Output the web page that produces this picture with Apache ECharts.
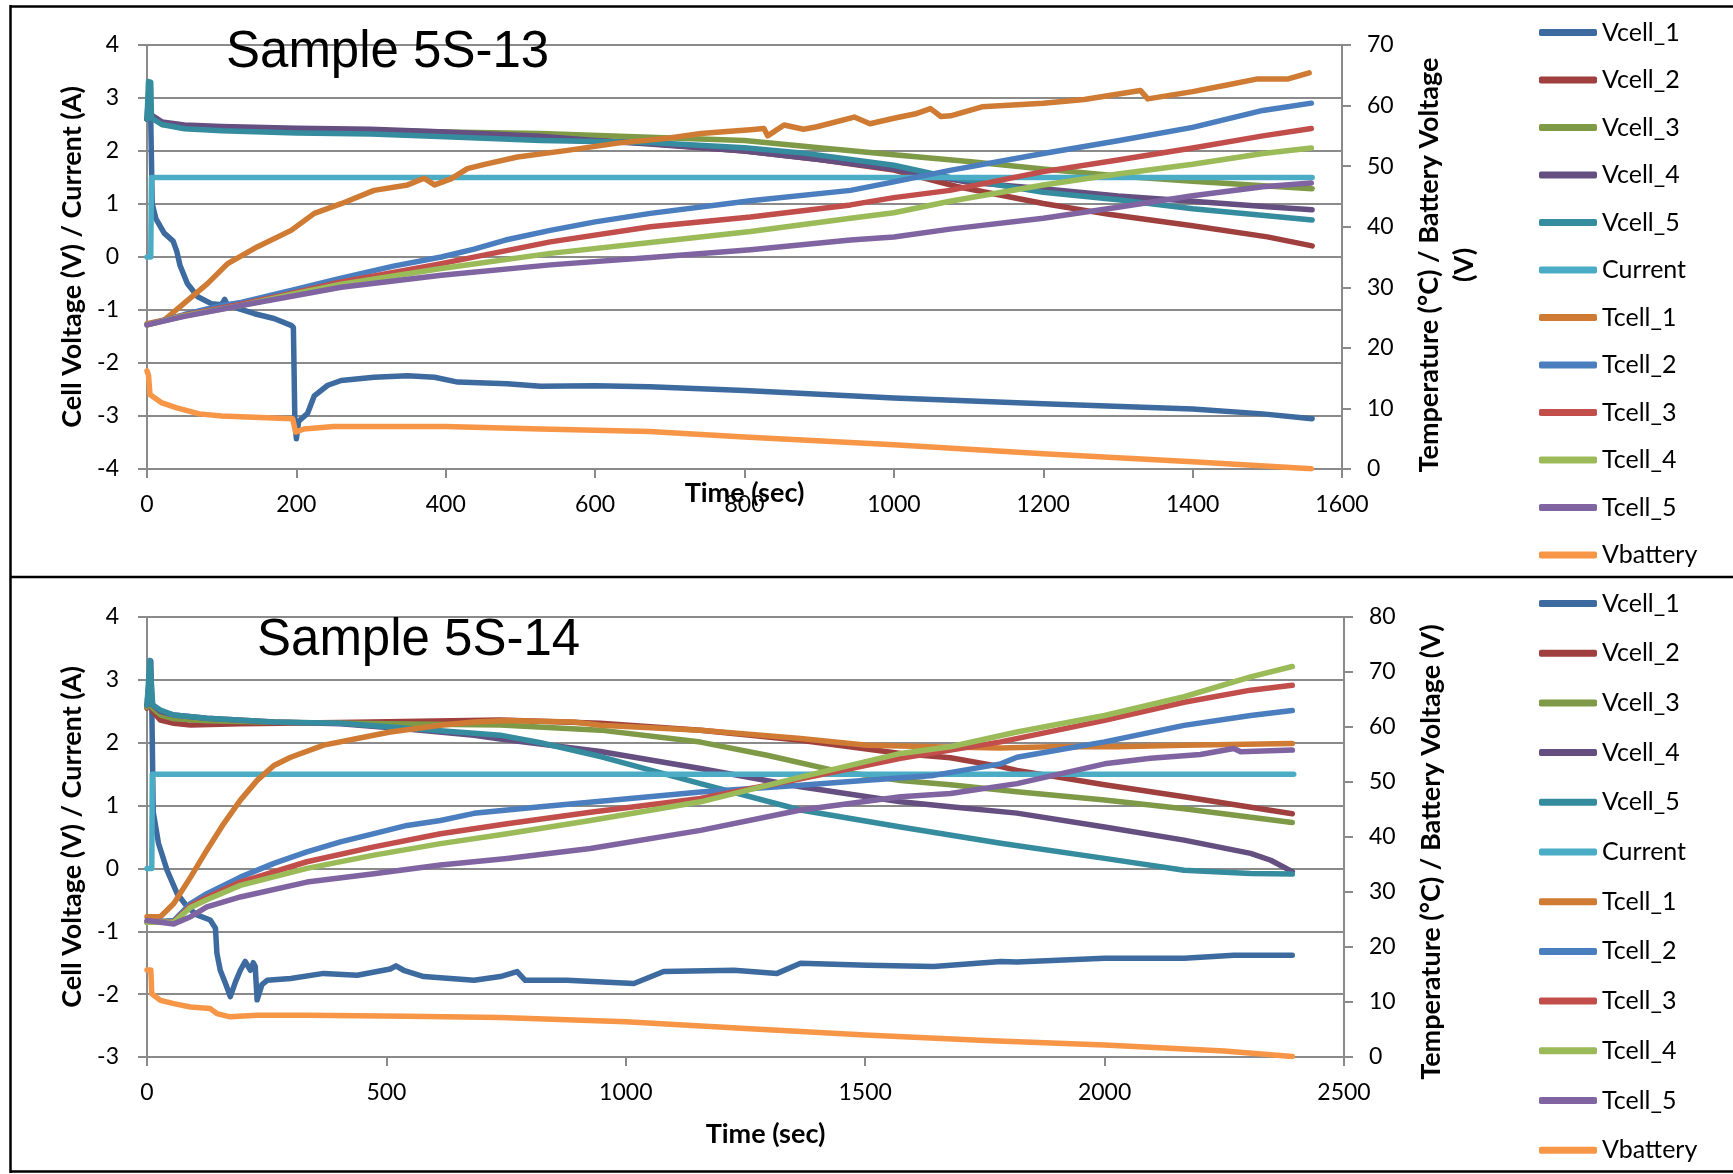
<!DOCTYPE html>
<html>
<head>
<meta charset="utf-8">
<script src="https://cdn.jsdelivr.net/npm/echarts@6/dist/echarts.min.js"></script>
<style>
  html, body { margin: 0; padding: 0; background: #fff; }
  #chart { width: 1733px; height: 1174px; }
</style>
</head>
<body>
<div id="chart"></div>
<script>
const seriesNames = ['Vcell_1', 'Vcell_2', 'Vcell_3', 'Vcell_4', 'Vcell_5', 'Current',
  'Tcell_1', 'Tcell_2', 'Tcell_3', 'Tcell_4', 'Tcell_5', 'Vbattery'];
const seriesColors = ['#3D6A9F', '#A0403E', '#7E9A47', '#654E80', '#368C9F', '#4BACC6',
  '#D07B33', '#4A7EBF', '#C24E4B', '#9BBB59', '#8064A2', '#F79646'];
// first six go on the left axis (V / A), the rest on the right one (°C / V)

// ---- Sample 5S-13 : [time s, value]
const s13Vcell1 = [[0,2.62],[3,3.2],[5,2.6],[7,1.0],[12,0.72],[23,0.45],[35,0.3],[40,0.1],[44,-0.15],[54,-0.5],[68,-0.75],[86,-0.88],[100,-0.9],[104,-0.8],[108,-0.92],[117,-0.95],[144,-1.07],[170,-1.16],[193,-1.29],[196,-1.33],[198,-3.1],[200,-3.43],[203,-3.1],[215,-2.95],[224,-2.62],[242,-2.42],[260,-2.33],[304,-2.27],[349,-2.24],[385,-2.27],[416,-2.36],[482,-2.39],[527,-2.44],[600,-2.43],[673,-2.45],[800,-2.52],[1000,-2.66],[1200,-2.77],[1400,-2.87],[1494,-2.96],[1560,-3.05]];
const s13Vcell2 = [[0,2.6],[3,2.7],[6,2.65],[20,2.52],[60,2.45],[120,2.42],[200,2.41],[300,2.39],[400,2.35],[527,2.27],[673,2.14],[800,2.0],[900,1.84],[1000,1.64],[1084,1.33],[1200,1.01],[1290,0.8],[1400,0.59],[1500,0.38],[1560,0.21]];
const s13Vcell3 = [[0,2.6],[3,2.7],[6,2.65],[20,2.5],[60,2.44],[120,2.42],[200,2.41],[300,2.39],[400,2.36],[527,2.33],[673,2.26],[800,2.2],[900,2.06],[1000,1.93],[1100,1.8],[1200,1.66],[1300,1.53],[1400,1.43],[1500,1.34],[1560,1.29]];
const s13Vcell4 = [[0,2.6],[3,2.72],[6,2.68],[20,2.55],[50,2.49],[100,2.46],[200,2.43],[300,2.41],[400,2.36],[527,2.28],[600,2.2],[673,2.13],[800,2.0],[900,1.84],[1000,1.66],[1075,1.47],[1100,1.41],[1200,1.29],[1300,1.15],[1400,1.05],[1500,0.95],[1560,0.89]];
const s13Vcell5 = [[0,2.6],[2,3.31],[5,3.3],[6,2.62],[20,2.5],[50,2.42],[100,2.38],[200,2.34],[300,2.32],[400,2.27],[527,2.2],[673,2.16],[800,2.06],[880,1.96],[1000,1.73],[1075,1.5],[1100,1.45],[1200,1.22],[1300,1.08],[1400,0.91],[1500,0.78],[1560,0.7]];
const s13Current = [[0,0],[5,0],[6,1.5],[1560,1.5]];
const s13Tcell1 = [[0,24.0],[23,24.6],[50,27.4],[81,30.6],[108,33.9],[148,36.7],[193,39.4],[224,42.2],[260,43.8],[304,46.0],[349,46.9],[371,48.0],[385,46.9],[407,47.9],[429,49.6],[452,50.3],[496,51.5],[563,52.6],[630,53.8],[697,54.6],[742,55.4],[763,55.6],[808,56.0],[826,56.2],[831,55.0],[853,56.8],[879,56.1],[897,56.5],[947,58.1],[968,57.0],[1000,57.9],[1031,58.7],[1049,59.5],[1063,58.2],[1076,58.3],[1118,59.8],[1200,60.4],[1255,61.0],[1330,62.5],[1340,61.1],[1400,62.3],[1446,63.4],[1487,64.4],[1528,64.4],[1556,65.4]];
const s13Tcell2 = [[0,23.8],[50,25.5],[100,27.0],[126,27.5],[193,29.5],[260,31.5],[330,33.5],[394,35.0],[438,36.3],[480,37.8],[540,39.4],[600,40.8],[674,42.2],[808,44.3],[942,46.0],[1000,47.4],[1075,49.3],[1200,52.1],[1300,54.2],[1400,56.4],[1494,59.2],[1559,60.4]];
const s13Tcell3 = [[0,23.8],[50,25.4],[126,27.2],[193,29.0],[260,30.9],[394,33.9],[540,37.5],[674,40.0],[808,41.6],[942,43.6],[1000,44.8],[1075,46.0],[1200,49.1],[1300,51.0],[1400,53.0],[1494,55.0],[1559,56.2]];
const s13Tcell4 = [[0,23.8],[50,25.3],[126,27.0],[193,28.8],[260,30.5],[394,33.1],[540,35.6],[674,37.4],[808,39.2],[942,41.4],[1000,42.3],[1075,44.2],[1200,46.9],[1300,48.7],[1400,50.3],[1494,52.1],[1559,53.0]];
const s13Tcell5 = [[0,23.8],[50,25.2],[126,27.0],[260,30.0],[394,32.0],[540,33.7],[674,34.9],[808,36.2],[942,37.8],[1000,38.3],[1075,39.6],[1200,41.4],[1300,43.2],[1400,45.1],[1494,46.6],[1559,47.2]];
const s13Vbattery = [[0,16.2],[2,15.5],[4,12.3],[20,10.9],[40,10.1],[70,9.1],[100,8.75],[195,8.3],[199,6.1],[210,6.6],[250,7.0],[400,7.0],[527,6.6],[673,6.2],[800,5.3],[1000,4.0],[1200,2.5],[1400,1.2],[1559,0.05]];

// ---- Sample 5S-14
const s14Vcell1 = [[0,2.6],[8,3.3],[10,2.6],[13,0.9],[24,0.4],[42,-0.03],[63,-0.4],[84,-0.61],[104,-0.74],[132,-0.82],[143,-0.95],[146,-1.35],[153,-1.62],[165,-1.85],[174,-2.04],[185,-1.8],[195,-1.62],[205,-1.48],[216,-1.62],[222,-1.5],[226,-1.56],[230,-2.09],[240,-1.85],[251,-1.78],[300,-1.75],[369,-1.67],[439,-1.7],[508,-1.6],[520,-1.55],[536,-1.62],[578,-1.72],[683,-1.78],[738,-1.72],[773,-1.64],[790,-1.78],[877,-1.78],[1017,-1.83],[1079,-1.64],[1226,-1.62],[1316,-1.67],[1365,-1.51],[1504,-1.54],[1643,-1.56],[1783,-1.48],[1817,-1.49],[2000,-1.43],[2166,-1.43],[2270,-1.38],[2392,-1.38]];
const s14Vcell2 = [[0,2.55],[8,2.6],[12,2.5],[28,2.36],[56,2.31],[91,2.28],[195,2.3],[400,2.32],[738,2.36],[947,2.31],[1156,2.2],[1365,2.04],[1574,1.83],[1678,1.76],[1783,1.62],[1817,1.56],[2000,1.33],[2166,1.14],[2392,0.87]];
const s14Vcell3 = [[0,2.57],[8,2.62],[12,2.55],[28,2.44],[56,2.38],[125,2.35],[300,2.32],[500,2.3],[738,2.28],[947,2.2],[1156,2.01],[1295,1.8],[1434,1.56],[1574,1.4],[1678,1.33],[1817,1.22],[2000,1.09],[2166,0.95],[2392,0.73]];
const s14Vcell4 = [[0,2.6],[8,2.65],[12,2.6],[28,2.5],[56,2.44],[125,2.39],[265,2.33],[404,2.3],[543,2.22],[683,2.12],[738,2.06],[947,1.86],[1156,1.59],[1365,1.3],[1574,1.06],[1678,0.98],[1817,0.88],[2000,0.66],[2166,0.45],[2305,0.24],[2347,0.13],[2392,-0.05]];
const s14Vcell5 = [[0,2.6],[6,3.31],[10,3.3],[12,2.6],[28,2.52],[56,2.44],[125,2.39],[265,2.33],[404,2.31],[543,2.23],[683,2.15],[738,2.12],[822,2.0],[947,1.78],[1156,1.35],[1365,0.93],[1574,0.66],[1783,0.4],[2000,0.16],[2166,-0.03],[2305,-0.08],[2392,-0.09]];
const s14Current = [[0,0],[10,0],[11,1.5],[2395,1.5]];
const s14Tcell1 = [[0,25.5],[28,25.5],[56,27.9],[91,32.7],[125,37.6],[160,42.4],[195,46.7],[230,50.3],[265,53.0],[300,54.5],[369,56.7],[439,57.9],[508,59.1],[613,60.3],[683,60.9],[752,61.2],[892,60.9],[947,60.3],[1156,59.4],[1365,57.9],[1504,56.7],[1643,56.4],[1783,56.2],[1887,56.4],[2026,56.4],[2166,56.7],[2392,57.0]];
const s14Tcell2 = [[0,24.5],[56,24.8],[91,27.9],[125,29.7],[195,32.7],[265,35.2],[334,37.3],[404,39.1],[474,40.6],[543,42.1],[613,43.0],[683,44.3],[822,45.5],[947,46.5],[1156,48.2],[1365,49.4],[1504,50.3],[1643,51.2],[1783,53.3],[1817,54.5],[2000,57.3],[2166,60.3],[2305,62.1],[2392,63.0]];
const s14Tcell3 = [[0,24.5],[56,24.6],[91,27.5],[125,29.0],[195,31.8],[334,35.5],[474,38.2],[613,40.6],[752,42.4],[926,44.5],[1156,47.0],[1365,50.6],[1574,54.3],[1678,55.8],[1783,57.3],[2000,61.2],[2166,64.5],[2305,66.7],[2392,67.6]];
const s14Tcell4 = [[0,24.5],[56,24.5],[91,27.2],[125,28.6],[195,31.2],[334,34.3],[474,36.7],[613,38.8],[752,40.6],[926,43.0],[1156,46.4],[1365,50.9],[1574,55.2],[1678,56.4],[1817,59.1],[2000,62.1],[2166,65.5],[2305,69.1],[2392,71.0]];
const s14Tcell5 = [[0,24.8],[56,24.2],[91,25.5],[125,27.3],[195,29.1],[334,31.8],[474,33.3],[613,34.9],[752,36.1],[926,37.9],[1156,41.2],[1365,44.9],[1574,47.3],[1678,47.9],[1817,49.7],[2000,53.3],[2096,54.3],[2200,55.0],[2270,56.1],[2284,55.5],[2392,55.8]];
const s14Vbattery = [[0,15.8],[8,15.8],[10,11.5],[28,10.3],[56,9.7],[91,9.1],[132,8.8],[146,7.9],[174,7.3],[230,7.6],[334,7.6],[543,7.4],[738,7.2],[1000,6.4],[1250,5.2],[1500,4.0],[1750,3.0],[2000,2.2],[2250,1.1],[2392,0.1]];

const s13Data = [s13Vcell1, s13Vcell2, s13Vcell3, s13Vcell4, s13Vcell5, s13Current,
  s13Tcell1, s13Tcell2, s13Tcell3, s13Tcell4, s13Tcell5, s13Vbattery];
const s14Data = [s14Vcell1, s14Vcell2, s14Vcell3, s14Vcell4, s14Vcell5, s14Current,
  s14Tcell1, s14Tcell2, s14Tcell3, s14Tcell4, s14Tcell5, s14Vbattery];

const gridGray = '#8a8a8a';
const font = 'Lato';

const makeSeries = (dataList, xIdx, leftIdx, rightIdx) => dataList.map((d, i) => ({
  name: seriesNames[i],
  type: 'line',
  xAxisIndex: xIdx,
  yAxisIndex: i < 6 ? leftIdx : rightIdx,
  data: d,
  showSymbol: false,
  symbol: 'none',
  lineStyle: { width: 5.5, color: seriesColors[i], cap: 'round', join: 'round' },
  itemStyle: { color: seriesColors[i] },
  emphasis: { disabled: true }
}));

// plain numbers on the ticks, no thousands separator
const plainNumber = (value) => String(value);
const tickLabel = { fontFamily: font, fontSize: 23, color: '#000', formatter: plainNumber };
const titleText = { fontFamily: font, fontSize: 27, fontWeight: 'bold', color: '#000' };

const xAxisBase = (gridIndex, max, interval, nameGap, padding) => ({
  type: 'value', gridIndex, min: 0, max, interval,
  name: 'Time (sec)', nameLocation: 'middle', nameGap, nameMoveOverlap: false,
  nameTextStyle: Object.assign({ padding }, titleText),
  axisLine: { onZero: false, lineStyle: { color: gridGray, width: 2 } },
  axisTick: { show: true, length: 9, lineStyle: { color: gridGray, width: 2 } },
  axisLabel: Object.assign({ margin: 24 }, tickLabel),
  splitLine: { show: false }
});

const leftAxis = (gridIndex, min, max) => ({
  type: 'value', gridIndex, min, max, interval: 1, position: 'left',
  name: 'Cell Voltage (V) / Current (A)', nameLocation: 'middle', nameGap: 60,
  nameTextStyle: titleText,
  axisLine: { show: true, lineStyle: { color: gridGray, width: 2 } },
  axisTick: { show: true, length: 9, lineStyle: { color: gridGray, width: 2 } },
  axisLabel: Object.assign({ margin: 28 }, tickLabel),
  splitLine: { show: true, lineStyle: { color: gridGray, width: 2 } }
});

const rightAxis = (gridIndex, max, name, padding) => ({
  type: 'value', gridIndex, min: 0, max, interval: 10, position: 'right',
  name, nameLocation: 'middle', nameGap: 70,
  nameTextStyle: Object.assign({ lineHeight: 35, padding }, titleText),
  axisLine: { show: true, lineStyle: { color: gridGray, width: 2 } },
  axisTick: { show: true, length: 9, lineStyle: { color: gridGray, width: 2 } },
  axisLabel: Object.assign({ margin: 25 }, tickLabel),
  splitLine: { show: false }
});

const legendBase = (top, itemGap) => ({
  orient: 'vertical', left: 1534, top, itemGap,
  itemWidth: 58, itemHeight: 7, icon: 'roundRect',
  data: seriesNames,
  selectedMode: false,
  textStyle: { fontFamily: font, fontSize: 25, color: '#000', lineHeight: 30 }
});

const myChart = echarts.init(document.getElementById('chart'));
myChart.setOption({
  animation: false,
  backgroundColor: '#fff',
  grid: [
    { left: 147, top: 45, width: 1195, height: 424 },
    { left: 147, top: 617, width: 1197, height: 440 }
  ],
  xAxis: [
    xAxisBase(0, 1600, 200, 11, [0, 0, 0, 0]),
    xAxisBase(1, 2500, 500, 64, [0, 0, 0, 40])
  ],
  yAxis: [
    leftAxis(0, -4, 4),
    rightAxis(0, 70, 'Temperature (°C) / Battery Voltage\n(V)', [0, 16, 0, 0]),
    leftAxis(1, -3, 4),
    rightAxis(1, 80, 'Temperature (°C) / Battery Voltage (V)', [0, 30, 0, 0])
  ],
  legend: [legendBase(12.5, 17.5), legendBase(583.5, 19.7)],
  graphic: [
    { type: 'line', shape: { x1: 10, y1: 6.5, x2: 1733, y2: 6.5 }, style: { stroke: '#000', lineWidth: 2.5 } },
    { type: 'line', shape: { x1: 10.5, y1: 5, x2: 10.5, y2: 1173 }, style: { stroke: '#000', lineWidth: 2.5 } },
    { type: 'line', shape: { x1: 10, y1: 577, x2: 1733, y2: 577 }, style: { stroke: '#000', lineWidth: 2.5 } },
    { type: 'line', shape: { x1: 10, y1: 1171.5, x2: 1733, y2: 1171.5 }, style: { stroke: '#000', lineWidth: 2.5 } },
    { type: 'text', x: 226, y: 53, z: 100, style: { text: 'Sample 5S-13', font: '51px "Liberation Sans", Arial, sans-serif', fill: '#000', verticalAlign: 'middle' } },
    { type: 'text', x: 257, y: 641, z: 100, style: { text: 'Sample 5S-14', font: '51px "Liberation Sans", Arial, sans-serif', fill: '#000', verticalAlign: 'middle' } }
  ],
  series: makeSeries(s13Data, 0, 0, 1).concat(makeSeries(s14Data, 1, 2, 3))
});
window.onresize = function () {
  myChart.resize();
};
</script>
</body>
</html>
